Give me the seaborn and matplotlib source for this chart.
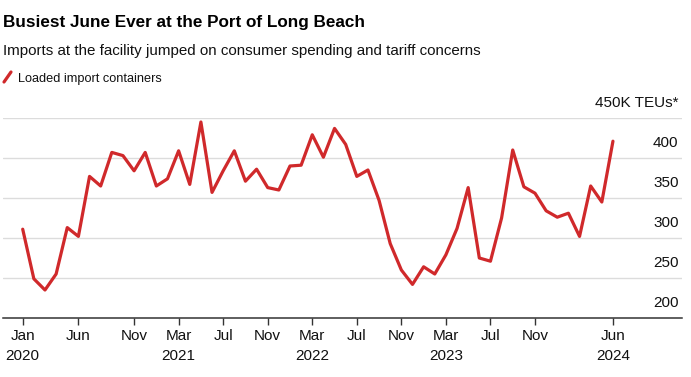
import seaborn as sns
import matplotlib.pyplot as plt
import matplotlib.transforms as mtransforms
import pandas as pd

# Loaded import containers, thousand TEUs, Jan 2020 - Jun 2024
months = pd.date_range("2020-01-01", "2024-06-01", freq="MS")
teus = [311, 249, 235, 255, 313, 302, 377, 365, 407, 403, 384, 407,
        365, 374, 409, 367, 445, 357, 384, 409, 371, 386, 363, 360,
        390, 391, 429, 401, 437, 417, 377, 385, 347, 293, 260, 242,
        264, 255, 279, 312, 363, 275, 271, 325, 410, 364, 356, 334,
        326, 331, 302, 365, 345, 421]

tick_months = [0, 5, 10, 14, 18, 22, 26, 30, 34, 38, 42, 46, 53]
tick_labels = ["Jan\n2020", "Jun", "Nov", "Mar\n2021", "Jul", "Nov",
               "Mar\n2022", "Jul", "Nov", "Mar\n2023", "Jul", "Nov", "Jun\n2024"]
y_ticks = [200, 250, 300, 350, 400, 450]
y_labels = ["200", "250", "300", "350", "400", "450K TEUs*"]

df = pd.DataFrame({"m": range(len(teus)), "teus": teus})

sns.set_style("white")
plt.rcParams['font.family'] = ['Liberation Sans', 'DejaVu Sans']

fig = plt.figure(figsize=(6.91, 3.77), dpi=100)
ax = fig.add_axes([3 / 691, 1 - 318 / 377, 679 / 691, 200 / 377])

red = "#d0292b"
sns.lineplot(data=df, x="m", y="teus", color=red, linewidth=2.3, ax=ax, legend=False)

ax.set_xlim(-1.77, 59.2)
ax.set_ylim(200, 450)

# gridlines
for v in y_ticks[1:]:
    ax.axhline(v, color="#dcdcdc", linewidth=1, zorder=0)

for s in ["top", "right", "left"]:
    ax.spines[s].set_visible(False)
ax.spines["bottom"].set_color("#333333")
ax.spines["bottom"].set_linewidth(1.1)

ax.set_yticks([])
ax.set_xticks(tick_months)
ax.set_xticklabels(tick_labels, fontsize=11, color="#111111", linespacing=1.55)
ax.tick_params(axis="x", length=5, width=1, color="#333333", pad=3, bottom=True)
ax.set_xlabel("")
ax.set_ylabel("")

# y labels above gridlines on the right
trans = mtransforms.blended_transform_factory(ax.transAxes, ax.transData)
for v, lab in zip(y_ticks, y_labels):
    ax.annotate(lab, xy=(0.995, v), xycoords=trans, xytext=(0, 8),
                textcoords="offset points", ha="right", va="baseline",
                fontsize=11, color="#111111", annotation_clip=False)

# titles
fig.text(3 / 691, 1 - 27 / 377, "Busiest June Ever at the Port of Long Beach",
         fontsize=12.3, fontweight="bold", color="#000000", va="baseline")
fig.text(3 / 691, 1 - 55 / 377,
         "Imports at the facility jumped on consumer spending and tariff concerns",
         fontsize=10.9, color="#111111", va="baseline")

# legend
fig.lines.append(plt.Line2D([4 / 691, 11 / 691], [1 - 82 / 377, 1 - 72 / 377],
                            transform=fig.transFigure, color=red, linewidth=2.3))
fig.text(18 / 691, 1 - 82 / 377, "Loaded import containers",
         fontsize=9.2, color="#111111", va="baseline")

fig.savefig("out.png", dpi=100)
